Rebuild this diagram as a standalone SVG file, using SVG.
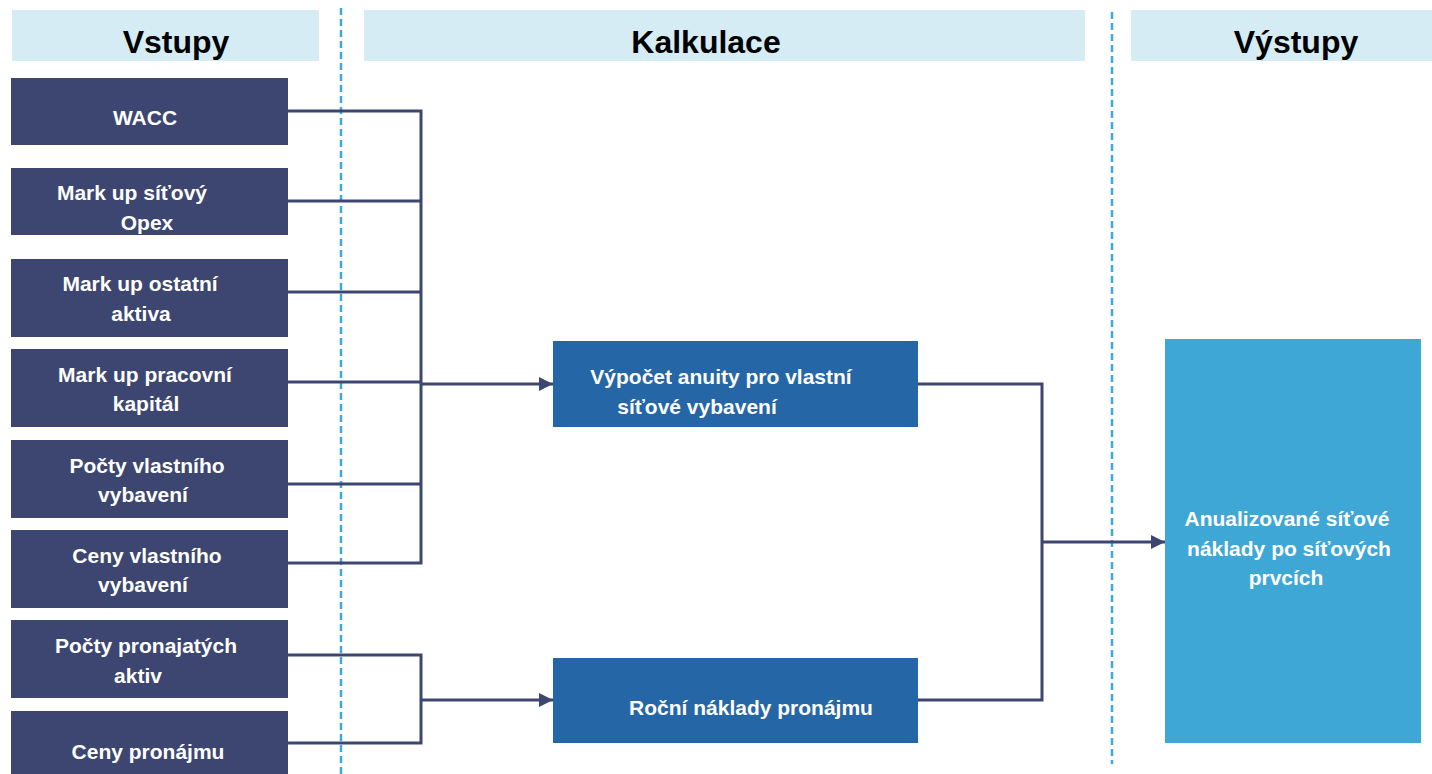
<svg xmlns="http://www.w3.org/2000/svg" width="1432" height="774" viewBox="0 0 1432 774">
<defs>
<style>
.hdr{fill:#d5ecf4}
.hdrt{font-family:"Liberation Sans",Arial,sans-serif;font-weight:bold;font-size:32px;fill:#000;text-anchor:middle}
.in{fill:#3c4670}
.calc{fill:#2566a6}
.out{fill:#3ea7d6}
.t{font-family:"Liberation Sans",Arial,sans-serif;font-weight:bold;font-size:21px;fill:#fff;text-anchor:middle}
.sep{stroke:#3aaad8;stroke-width:2.5;stroke-dasharray:7 4;fill:none}
.c{stroke:#3c4670;stroke-width:3;fill:none}
</style>
<marker id="arr" viewBox="0 0 10 10" refX="10" refY="5" markerWidth="4.7" markerHeight="4.7" markerUnits="strokeWidth" orient="auto">
<path d="M0,0 L10,5 L0,10 z" fill="#3c4670"/>
</marker>
</defs>
<rect width="1432" height="774" fill="#fff"/>
<g id="headers">
<rect class="hdr" x="12" y="10" width="307" height="51"/>
<text class="hdrt" x="176" y="53">Vstupy</text>
<rect class="hdr" x="364" y="10" width="721" height="51"/>
<text class="hdrt" x="706" y="53">Kalkulace</text>
<rect class="hdr" x="1131" y="10" width="301" height="51"/>
<text class="hdrt" x="1296" y="53">Výstupy</text>
</g>
<g id="separators">
<line class="sep" x1="341" y1="8" x2="341" y2="774"/>
<line class="sep" x1="1112" y1="12" x2="1112" y2="764"/>
</g>
<g id="connectors">
<polyline class="c" points="288,111 421,111 421,563 288,563"/>
<line class="c" x1="288" y1="201" x2="421" y2="201"/>
<line class="c" x1="288" y1="292" x2="421" y2="292"/>
<line class="c" x1="288" y1="382" x2="421" y2="382"/>
<line class="c" x1="288" y1="484" x2="421" y2="484"/>
<line class="c" x1="421" y1="384" x2="553" y2="384" marker-end="url(#arr)"/>
<polyline class="c" points="288,655 421,655 421,743 288,743"/>
<line class="c" x1="421" y1="700" x2="553" y2="700" marker-end="url(#arr)"/>
<polyline class="c" points="918,384 1042,384 1042,700 918,700"/>
<line class="c" x1="1042" y1="542" x2="1165" y2="542" marker-end="url(#arr)"/>
</g>
<g id="in-wacc">
<rect class="in" x="11" y="78" width="277" height="67"/>
<text class="t" x="145" y="125">WACC</text>
</g>
<g id="in-markup-opex">
<rect class="in" x="11" y="168" width="277" height="67"/>
<text class="t" x="132" y="200">Mark up síťový</text>
<text class="t" x="147" y="230">Opex</text>
</g>
<g id="in-markup-ostatni">
<rect class="in" x="11" y="259" width="277" height="78"/>
<text class="t" x="140" y="291">Mark up ostatní</text>
<text class="t" x="141" y="321">aktiva</text>
</g>
<g id="in-markup-pracovni">
<rect class="in" x="11" y="349" width="277" height="78"/>
<text class="t" x="145" y="382">Mark up pracovní</text>
<text class="t" x="146" y="411">kapitál</text>
</g>
<g id="in-pocty-vlastniho">
<rect class="in" x="11" y="440" width="277" height="78"/>
<text class="t" x="147" y="473">Počty vlastního</text>
<text class="t" x="143" y="502">vybavení</text>
</g>
<g id="in-ceny-vlastniho">
<rect class="in" x="11" y="530" width="277" height="78"/>
<text class="t" x="147" y="563">Ceny vlastního</text>
<text class="t" x="143" y="592">vybavení</text>
</g>
<g id="in-pocty-pronajatych">
<rect class="in" x="11" y="620" width="277" height="78"/>
<text class="t" x="146" y="653">Počty pronajatých</text>
<text class="t" x="138" y="683">aktiv</text>
</g>
<g id="in-ceny-pronajmu">
<rect class="in" x="11" y="711" width="277" height="63"/>
<text class="t" x="148" y="759">Ceny pronájmu</text>
</g>
<g id="calc-anuita">
<rect class="calc" x="553" y="341" width="365" height="86"/>
<text class="t" x="721" y="384">Výpočet anuity pro vlastní</text>
<text class="t" x="697" y="414">síťové vybavení</text>
</g>
<g id="calc-pronajem">
<rect class="calc" x="553" y="658" width="365" height="85"/>
<text class="t" x="751" y="715">Roční náklady pronájmu</text>
</g>
<g id="out-naklady">
<rect class="out" x="1165" y="339" width="256" height="404"/>
<text class="t" x="1287" y="526">Anualizované síťové</text>
<text class="t" x="1289" y="556">náklady po síťových</text>
<text class="t" x="1286" y="585">prvcích</text>
</g>
</svg>
